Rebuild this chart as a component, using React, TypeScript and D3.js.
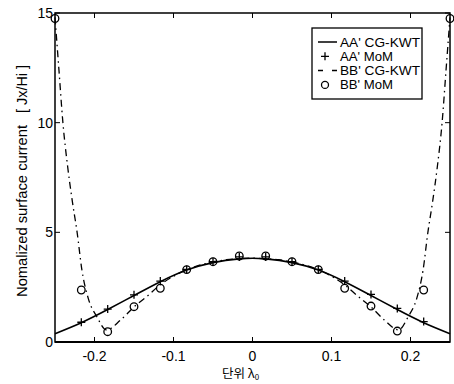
import React from 'react'
import * as d3 from 'd3'

const W = 454
const H = 384
const margin = { left: 55, right: 4, top: 13, bottom: 42 }

// x positions of the MoM samples (unit: wavelength)
const momX = [-0.2167, -0.1833, -0.15, -0.1167, -0.0833, -0.05, -0.0167, 0.0167, 0.05, 0.0833, 0.1167, 0.15, 0.1833, 0.2167]
const aaMoM = [0.9, 1.5, 2.15, 2.78, 3.31, 3.66, 3.88, 3.88, 3.66, 3.31, 2.78, 2.17, 1.53, 0.93]
const bbMoMX = [-0.25, ...momX, 0.25]
const bbMoM = [14.75, 2.37, 0.47, 1.61, 2.45, 3.3, 3.66, 3.92, 3.92, 3.66, 3.3, 2.45, 1.64, 0.5, 2.37, 14.75]

// CG-KWT curves
const aaLineX = [-0.25, -0.2167, -0.1833, -0.15, -0.1167, -0.0833, -0.05, -0.0167, 0, 0.0167, 0.05, 0.0833, 0.1167, 0.15, 0.1833, 0.2167, 0.25]
const aaLine = [0.38, 0.88, 1.48, 2.12, 2.75, 3.28, 3.62, 3.79, 3.82, 3.79, 3.62, 3.28, 2.75, 2.12, 1.48, 0.88, 0.38]
const bbLineX = [-0.25, -0.245, -0.24, -0.234, -0.228, -0.222, -0.216, -0.208, -0.197, -0.185, -0.167, -0.15, -0.133, -0.117, -0.1, -0.083, -0.067, -0.05, -0.033, -0.017, 0,
  0.017, 0.033, 0.05, 0.067, 0.083, 0.1, 0.117, 0.133, 0.15, 0.167, 0.185, 0.197, 0.208, 0.216, 0.222, 0.228, 0.234, 0.24, 0.245, 0.25]
const bbLine = [14.8, 12.4, 10.0, 8.0, 6.4, 5.0, 3.3, 2.0, 1.15, 0.55, 1.0, 1.6, 2.1, 2.6, 3.0, 3.3, 3.5, 3.65, 3.75, 3.8, 3.82,
  3.8, 3.75, 3.65, 3.5, 3.3, 3.0, 2.6, 2.1, 1.6, 1.0, 0.55, 1.15, 2.0, 3.3, 5.0, 6.4, 8.0, 10.0, 12.4, 14.8]

const xTicks = [-0.2, -0.1, 0, 0.1, 0.2]
const yTicks = [0, 5, 10, 15]
const legendLabels = ["AA' CG-KWT", "AA' MoM", "BB' CG-KWT", "BB' MoM"]

const sans = 'Liberation Sans, Arial, sans-serif'

export default function App() {
  const x = d3.scaleLinear().domain([-0.25, 0.25]).range([margin.left, W - margin.right])
  const y = d3.scaleLinear().domain([0, 15]).range([H - margin.bottom, margin.top])
  const [x0, x1] = x.range()
  const [y0, y1] = y.range()

  const aaPath = d3.line<number>().x((d, i) => x(aaLineX[i])).y(d => y(d)).curve(d3.curveNatural)(aaLine)
  const bbPath = d3.line<number>().x((d, i) => x(bbLineX[i])).y(d => y(d)).curve(d3.curveMonotoneX)(bbLine)

  const lx = 312, ly = 28
  return (
    <svg width={W} height={H} style={{ position: 'absolute', left: 0, top: 0, background: '#fff' }}>
      <g fill="none" stroke="#000">
        <path d={bbPath || ''} strokeWidth={1.3} strokeDasharray="7,4,1.5,4" />
        <path d={aaPath || ''} strokeWidth={1.6} />
      </g>
      {momX.map((v, i) => (
        <path key={'p' + i} d={`M${x(v) - 4},${y(aaMoM[i])}h8M${x(v)},${y(aaMoM[i]) - 4}v8`} stroke="#000" strokeWidth={1.3} />
      ))}
      {bbMoMX.map((v, i) => (
        <circle key={'c' + i} cx={x(v)} cy={y(bbMoM[i])} r={3.8} fill="none" stroke="#000" strokeWidth={1.3} />
      ))}
      {/* frame */}
      <rect x={x0} y={y1} width={x1 - x0} height={y0 - y1} fill="none" stroke="#000" strokeWidth={1.5} />
      <line x1={x0} x2={x1} y1={y0} y2={y0} stroke="#000" strokeWidth={2} />
      {xTicks.map(t => (
        <g key={'xt' + t}>
          <line x1={x(t)} x2={x(t)} y1={y0} y2={y0 - 5} stroke="#000" />
          <line x1={x(t)} x2={x(t)} y1={y1} y2={y1 + 5} stroke="#000" />
          <text x={x(t)} y={y0 + 19} textAnchor="middle" fontFamily={sans} fontSize={14}>{t === 0 ? '0' : d3.format('.1f')(t).replace('−', '-')}</text>
        </g>
      ))}
      {yTicks.map(t => (
        <g key={'yt' + t}>
          <line x1={x0} x2={x0 + 5} y1={y(t)} y2={y(t)} stroke="#000" />
          <line x1={x1} x2={x1 - 5} y1={y(t)} y2={y(t)} stroke="#000" />
          <text x={x0 - 2} y={y(t) + 5} textAnchor="end" fontFamily={sans} fontSize={14}>{t}</text>
        </g>
      ))}
      {/* legend */}
      <rect x={lx} y={ly} width={110} height={71} fill="#fff" stroke="#000" strokeWidth={1.3} />
      {legendLabels.map((s, i) => {
        const cy = ly + 14 + i * 14.3
        return (
          <g key={s}>
            {i === 0 && <line x1={lx + 6} x2={lx + 25} y1={cy} y2={cy} stroke="#000" strokeWidth={1.5} />}
            {i === 1 && <path d={`M${lx + 9},${cy}h8M${lx + 13},${cy - 4}v8`} stroke="#000" strokeWidth={1.3} />}
            {i === 2 && <line x1={lx + 6} x2={lx + 25} y1={cy} y2={cy} stroke="#000" strokeWidth={1.5} strokeDasharray="5,9" />}
            {i === 3 && <circle cx={lx + 13} cy={cy} r={3.5} fill="none" stroke="#000" strokeWidth={1.3} />}
            <text x={lx + 28} y={cy + 4.5} fontFamily={sans} fontSize={13} textLength={s.length > 8 ? 80 : 53} lengthAdjust="spacingAndGlyphs">{s}</text>
          </g>
        )
      })}
      {/* axis titles */}
      <text transform={`translate(27,297) rotate(-90)`} fontFamily={sans}>
        <tspan fontSize={15} textLength={172} lengthAdjust="spacingAndGlyphs">Nomalized surface current</tspan>
        <tspan fontSize={14} dx={12} textLength={48} lengthAdjust="spacingAndGlyphs">[ Jx/Hi ]</tspan>
      </text>
      <text x={222} y={378} fontSize={12.5} fontFamily="Noto Sans CJK KR, sans-serif">
        단위 λ<tspan fontSize={8} dy={2}>0</tspan>
      </text>
    </svg>
  )
}
